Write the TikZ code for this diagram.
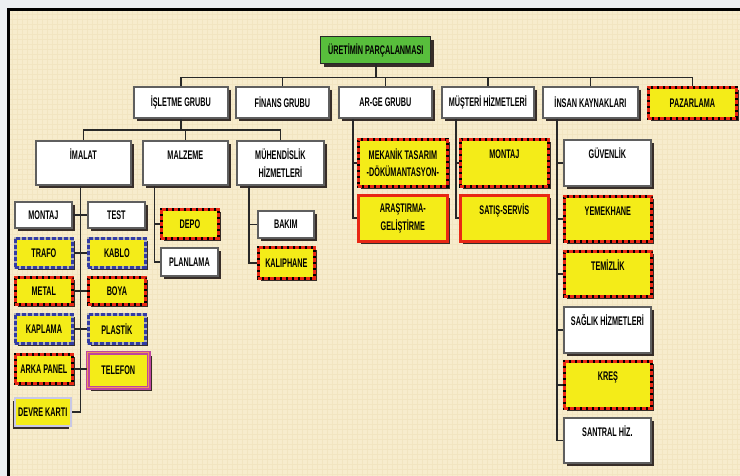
\documentclass[tikz,border=0pt]{standalone}
\usepackage{fontspec}
\newfontfamily\cf[FakeStretch=0.58]{Liberation Sans}
\usetikzlibrary{shadows,calc}
\definecolor{bgc}{RGB}{247,236,205}
\definecolor{gridc}{RGB}{242,229,193}
\definecolor{outc}{RGB}{236,239,242}
\definecolor{yel}{RGB}{244,236,24}
\definecolor{redd}{RGB}{232,40,20}
\definecolor{blu}{RGB}{50,60,165}
\definecolor{grn}{RGB}{88,190,60}
\definecolor{pbord}{RGB}{95,95,95}
\definecolor{shc}{RGB}{55,45,40}
\definecolor{linec}{RGB}{40,40,40}
\definecolor{purp}{RGB}{190,70,160}
\definecolor{oran}{RGB}{240,150,90}
\definecolor{lav}{RGB}{200,200,230}
\newcommand\bx[7]{\node[#1, anchor=north west, minimum width={#5-#3}, minimum height={#6-#4}] (#2) at (#3,#4) {#7};}
\newcommand\tbx[7]{\node[#1, inner sep=0pt, anchor=north west, minimum width={#5-#3}, minimum height={#6-#4}] (#2) at (#3,#4) {\parbox[c][\dimexpr#6pt-#4pt\relax][t]{\dimexpr#5pt-#3pt-4pt\relax}{\centering\rule{0pt}{19pt}#7}};}
\begin{document}
\begin{tikzpicture}[x=1pt,y=-1pt,
  every node/.style={font=\cf\bfseries\fontsize{12.5}{17.5}\selectfont, inner sep=2pt, align=center, text=black},
  shad/.style={drop shadow={shadow xshift=3pt, shadow yshift=-3pt, fill=shc, opacity=1}},
  plain/.style={shad, draw=pbord, line width=1.8pt, fill=white},
  rootbox/.style={shad, draw=linec, line width=1.4pt, fill=grn},
  reddash/.style={shad, draw=black, line width=2.8pt, fill=yel, postaction={draw=redd, line width=2.8pt, dash pattern=on 4pt off 2pt}},
  bluedash/.style={shad, draw=black!30, line width=2.8pt, fill=yel, postaction={draw=blu, line width=2.8pt, dash pattern=on 4pt off 2pt}},
  redsolid/.style={shad, draw=redd, line width=2.6pt, fill=yel},
  purpbox/.style={shad, draw=purp, double=oran, double distance=0.9pt, line width=1.5pt, fill=yel},
  lavbox/.style={drop shadow={shadow xshift=-2pt, shadow yshift=-3pt, fill=shc, opacity=1}, draw=lav, line width=1.6pt, fill=yel},
  conn/.style={draw=linec, line width=1.6pt}]
\useasboundingbox (0,0) rectangle (740,476);
% background
\fill[outc] (0,0) rectangle (740,476);
\fill[bgc] (8,10) rectangle (740,476);
\foreach \gx in {12,17,...,740} \draw[gridc, line width=0.4pt] (\gx,11) -- (\gx,476);
\foreach \gy in {14,19,...,476} \draw[gridc, line width=0.4pt] (9,\gy) -- (740,\gy);
\draw[black, line width=3pt] (740,10) -- (8,10) -- (8,476);
% level 0
\bx{rootbox}{root}{320}{36}{430}{63}{ÜRETİMİN PARÇALANMASI}
% level 1
\bx{plain}{isl}{133}{86}{227}{117}{İŞLETME GRUBU}
\bx{plain}{fin}{235}{86}{328}{117}{FİNANS GRUBU}
\bx{plain}{arge}{338}{86}{431}{117}{AR-GE GRUBU}
\bx{plain}{mus}{441}{86}{533}{117}{MÜŞTERİ HİZMETLERİ}
\bx{plain}{ins}{542}{86}{637}{117}{İNSAN KAYNAKLARI}
\bx{reddash}{paz}{647}{86}{735}{117}{PAZARLAMA}
% level 2 (isletme)
\tbx{plain}{imalat}{35}{140}{130}{184}{İMALAT}
\tbx{plain}{malz}{142}{140}{227}{184}{MALZEME}
\bx{plain}{muh}{236}{140}{323}{184}{MÜHENDİSLİK\\HİZMETLERİ}
% imalat children
\bx{plain}{montaj}{14}{201}{71}{227}{MONTAJ}
\bx{plain}{test}{87}{201}{144}{227}{TEST}
\bx{bluedash}{trafo}{14}{237}{71}{266}{TRAFO}
\bx{bluedash}{kablo}{87}{237}{144}{266}{KABLO}
\bx{reddash}{metal}{14}{276}{71}{303}{METAL}
\bx{reddash}{boya}{87}{276}{144}{303}{BOYA}
\bx{bluedash}{kaplama}{14}{313}{71}{342}{KAPLAMA}
\bx{bluedash}{plastik}{87}{313}{144}{342}{PLASTİK}
\bx{reddash}{arka}{14}{353}{71}{382}{ARKA PANEL}
\bx{purpbox}{telefon}{87}{352}{148}{387}{TELEFON}
\bx{lavbox}{devre}{14}{397}{70}{425}{DEVRE KARTI}
% malzeme children
\bx{reddash}{depo}{160}{208}{217}{237}{DEPO}
\bx{plain}{planlama}{160}{247}{217}{275}{PLANLAMA}
% muhendislik children
\bx{plain}{bakim}{257}{210}{313}{237}{BAKIM}
\bx{reddash}{kalip}{257}{246}{313}{277}{KALIPHANE}
% ar-ge children
\bx{reddash}{mekanik}{357}{138}{446}{185}{MEKANİK TASARIM\\-DÖKÜMANTASYON-}
\bx{redsolid}{arastirma}{357}{194}{446}{240}{ARAŞTIRMA-\\GELİŞTİRME}
% musteri children
\tbx{reddash}{montajb}{459}{138}{547}{185}{MONTAJ}
\tbx{redsolid}{satis}{459}{194}{547}{240}{SATIŞ-SERVİS}
% insan children
\tbx{plain}{guv}{563}{139}{650}{185}{GÜVENLİK}
\tbx{reddash}{yemek}{563}{195}{650}{240}{YEMEKHANE}
\tbx{reddash}{temiz}{563}{250}{650}{295}{TEMİZLİK}
\tbx{plain}{saglik}{563}{306}{650}{352}{SAĞLIK HİZMETLERİ}
\tbx{reddash}{kres}{563}{360}{650}{407}{KREŞ}
\tbx{plain}{santral}{563}{417}{650}{462}{SANTRAL HİZ.}
% connectors level 0 -> 1
\draw[conn] (root.south) -- ++(0,13) coordinate (rb);
\foreach \n in {isl,fin,arge,mus,ins,paz} \draw[conn] (rb) -| (\n.north);
% isletme -> level 2
\draw[conn] (isl.south) -- ++(0,11) coordinate (ib);
\foreach \n in {imalat,malz,muh} \draw[conn] (ib) -| (\n.north);
% imalat
\coordinate (imt) at ([xshift=-3pt]imalat.south);
\draw[conn] (imt) |- (devre.east);
\draw[conn] (montaj.east) -- (test.west);
\draw[conn] (trafo.east) -- (kablo.west);
\draw[conn] (metal.east) -- (boya.west);
\draw[conn] (kaplama.east) -- (plastik.west);
\draw[conn] (arka.east) -- (arka.east -| telefon.west);
% malzeme
\coordinate (mzt) at ([xshift=-31pt]malz.south);
\draw[conn] (mzt) |- (planlama.west);
\draw[conn] (mzt |- depo.west) -- (depo.west);
% muhendislik
\coordinate (mht) at ([xshift=-31.5pt]muh.south);
\draw[conn] (mht) |- (kalip.west);
\draw[conn] (mht |- bakim.west) -- (bakim.west);
% ar-ge
\coordinate (agt) at ([xshift=-32.5pt]arge.south);
\draw[conn] (agt) |- (arastirma.west);
\draw[conn] (agt |- mekanik.west) -- (mekanik.west);
% musteri
\coordinate (mst) at ([xshift=-32pt]mus.south);
\draw[conn] (mst) |- (satis.west);
\draw[conn] (mst |- montajb.west) -- (montajb.west);
% insan
\coordinate (ikt) at ([xshift=-33.5pt]ins.south);
\draw[conn] (ikt) |- (santral.west);
\foreach \n in {guv,yemek,temiz,saglik,kres} \draw[conn] (ikt |- \n.west) -- (\n.west);
\end{tikzpicture}
\end{document}
